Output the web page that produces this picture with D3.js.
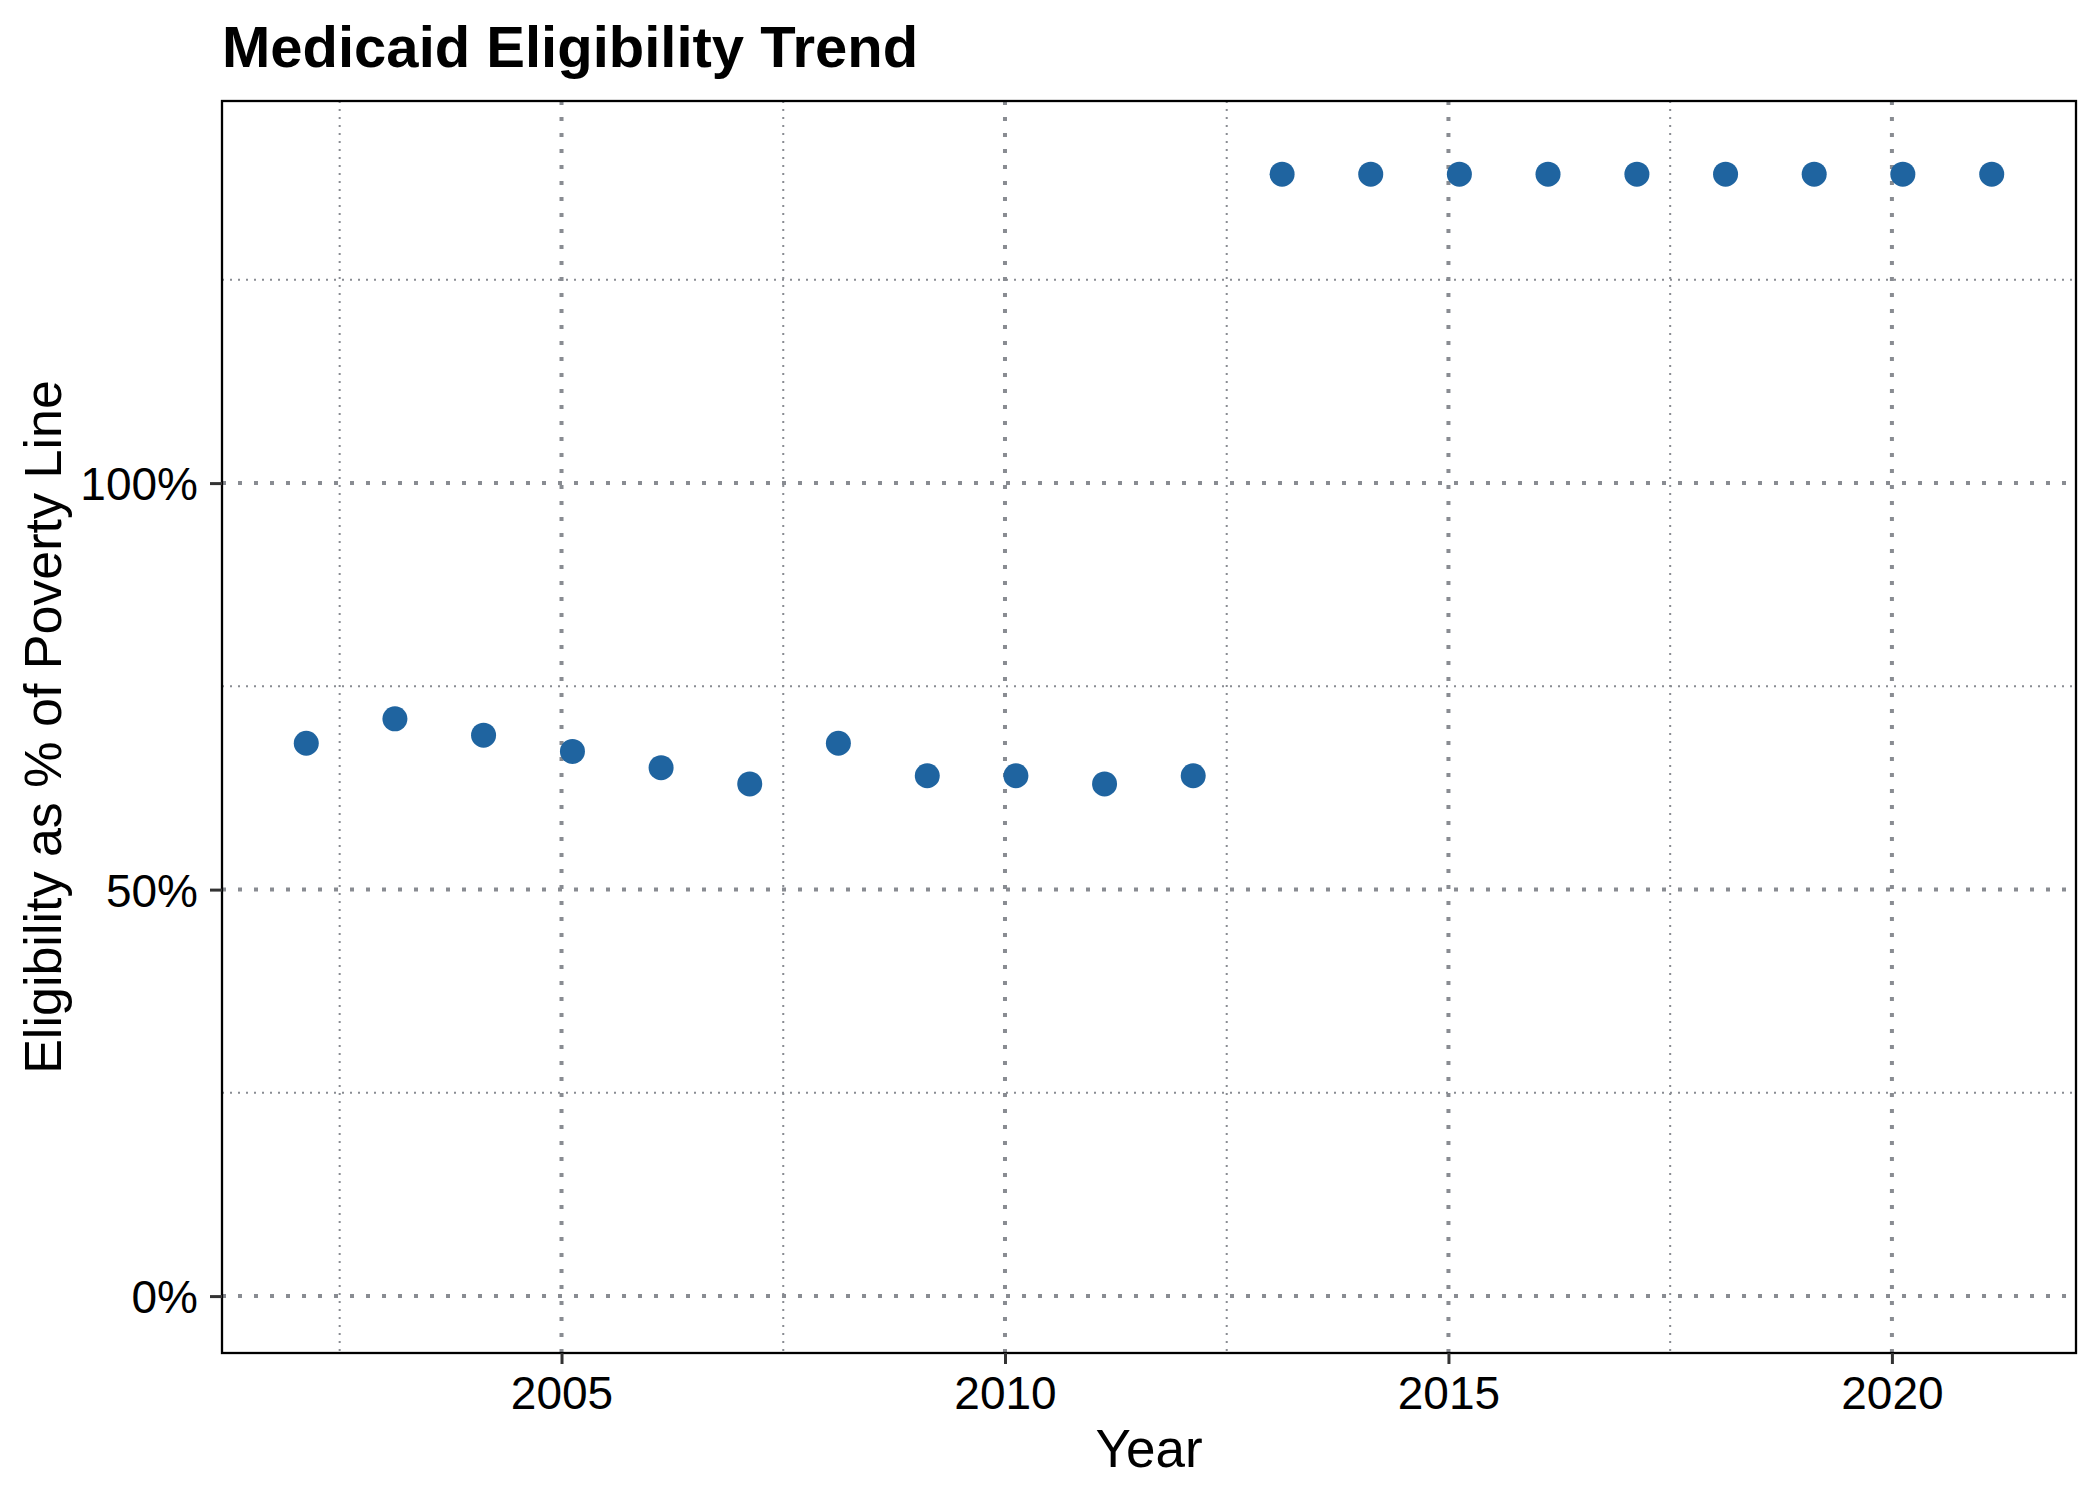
<!DOCTYPE html>
<html>
<head>
<meta charset="utf-8">
<script src="https://cdn.jsdelivr.net/npm/d3@7"></script>
<style>
  body { margin: 0; background: #fff; }
  text { font-family: "Liberation Sans", Arial, sans-serif; }
</style>
</head>
<body>
<div id="chart"></div>
<script>
// data
const dates = [
  "2002-02-15", "2003-02-15", "2004-02-15", "2005-02-15", "2006-02-15",
  "2007-02-15", "2008-02-15", "2009-02-15", "2010-02-15", "2011-02-15",
  "2012-02-15", "2013-02-15", "2014-02-15", "2015-02-15", "2016-02-15",
  "2017-02-15", "2018-02-15", "2019-02-15", "2020-02-15", "2021-02-15"
];
const eligibility = [68, 71, 69, 67, 65, 63, 68, 64, 64, 63, 64,
  138, 138, 138, 138, 138, 138, 138, 138, 138];

const yLimits = [0, 140];
const yMajor = [0, 50, 100];
const yMinor = [25, 75, 125];
const xMajorYears = [2000, 2005, 2010, 2015, 2020, 2025];

const title = "Medicaid Eligibility Trend";
const xTitle = "Year";
const yTitle = "Eligibility as % of Poverty Line";

const parse = d3.timeParse("%Y-%m-%d");
const points = dates.map((d, i) => ({ date: parse(d), value: eligibility[i] }));

const W = 2100, H = 1500;
const margin = { top: 101, right: 24, bottom: 147, left: 222 };
const width = W - margin.left - margin.right;
const height = H - margin.top - margin.bottom;

// ggplot-style 5% expansion
const ext = d3.extent(points, d => d.date.getTime());
const xPad = (ext[1] - ext[0]) * 0.05;
const x = d3.scaleTime()
  .domain([new Date(ext[0] - xPad), new Date(ext[1] + xPad)])
  .range([0, width]);

const yPad = (yLimits[1] - yLimits[0]) * 0.05;
const y = d3.scaleLinear()
  .domain([yLimits[0] - yPad, yLimits[1] + yPad])
  .range([height, 0]);

const xMajor = xMajorYears.map(yr => new Date(yr, 0, 1));
const xMinor = d3.pairs(xMajor).map(([a, b]) => new Date((a.getTime() + b.getTime()) / 2));
const inX = d => d >= x.domain()[0] && d <= x.domain()[1];

const svg = d3.select("#chart").append("svg")
  .attr("width", W)
  .attr("height", H);

svg.append("rect").attr("width", W).attr("height", H).attr("fill", "#fff");

const g = svg.append("g")
  .attr("transform", `translate(${margin.left},${margin.top})`);

const gridColor = "#898c92";

// minor grid
g.append("g").selectAll("line")
  .data(yMinor)
  .join("line")
  .attr("x1", 0).attr("x2", width)
  .attr("y1", d => y(d)).attr("y2", d => y(d))
  .attr("stroke", gridColor).attr("stroke-width", 2)
  .attr("stroke-dasharray", "2,6");

g.append("g").selectAll("line")
  .data(xMinor.filter(inX))
  .join("line")
  .attr("x1", d => x(d)).attr("x2", d => x(d))
  .attr("y1", 0).attr("y2", height)
  .attr("stroke", gridColor).attr("stroke-width", 2)
  .attr("stroke-dasharray", "2,6");

// major grid
g.append("g").selectAll("line")
  .data(yMajor)
  .join("line")
  .attr("x1", 0).attr("x2", width)
  .attr("y1", d => y(d)).attr("y2", d => y(d))
  .attr("stroke", gridColor).attr("stroke-width", 4)
  .attr("stroke-dasharray", "4,12");

g.append("g").selectAll("line")
  .data(xMajor.filter(inX))
  .join("line")
  .attr("x1", d => x(d)).attr("x2", d => x(d))
  .attr("y1", 0).attr("y2", height)
  .attr("stroke", gridColor).attr("stroke-width", 4)
  .attr("stroke-dasharray", "4,12");

// points
g.append("g").selectAll("circle")
  .data(points)
  .join("circle")
  .attr("cx", d => x(d.date))
  .attr("cy", d => y(d.value))
  .attr("r", 12.5)
  .attr("fill", "#1f64a0");

// panel border
g.append("rect")
  .attr("width", width).attr("height", height)
  .attr("fill", "none")
  .attr("stroke", "#000")
  .attr("stroke-width", 2.3);

// axes
const xAxis = g.append("g")
  .attr("transform", `translate(0,${height})`)
  .call(d3.axisBottom(x)
    .tickValues(xMajor.filter(inX))
    .tickFormat(d3.timeFormat("%Y"))
    .tickSize(11)
    .tickPadding(12));

const yAxis = g.append("g")
  .call(d3.axisLeft(y)
    .tickValues(yMajor)
    .tickFormat(d => d + "%")
    .tickSize(12)
    .tickPadding(12));

[xAxis, yAxis].forEach(a => {
  a.select(".domain").remove();
  a.selectAll(".tick line").attr("stroke", "#333").attr("stroke-width", 3);
  a.selectAll(".tick text")
    .attr("fill", "#000")
    .style("font-size", "46px")
    .style("font-family", "'Liberation Sans', Arial, sans-serif");
});
yAxis.selectAll(".tick text").attr("dy", "0.36em");

// titles
svg.append("text")
  .attr("x", margin.left)
  .attr("y", 67)
  .style("font-size", "58px")
  .style("font-weight", "bold")
  .text(title);

svg.append("text")
  .attr("x", margin.left + width / 2)
  .attr("y", 1467)
  .attr("text-anchor", "middle")
  .style("font-size", "53px")
  .text(xTitle);

svg.append("text")
  .attr("transform", `translate(61,${margin.top + height / 2}) rotate(-90)`)
  .attr("text-anchor", "middle")
  .style("font-size", "52px")
  .text(yTitle);
</script>
</body>
</html>
